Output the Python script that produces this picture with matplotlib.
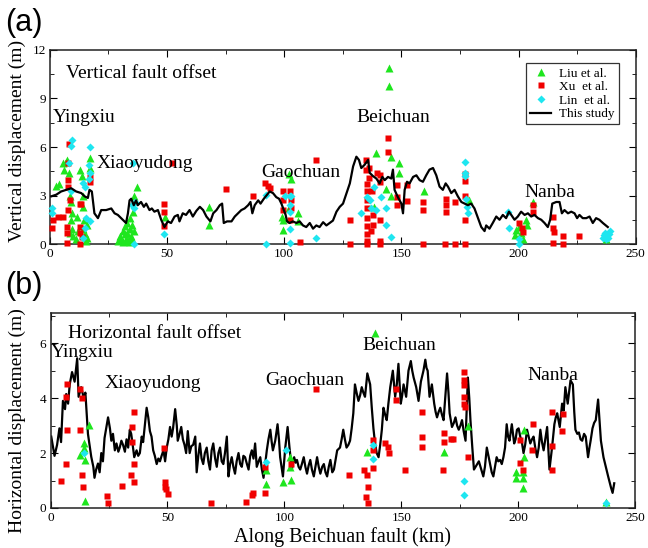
import matplotlib.pyplot as plt
from matplotlib.ticker import MultipleLocator

plt.rcParams['font.family'] = ['Liberation Serif', 'DejaVu Serif']

# ---- (a) vertical offsets ----
v_line_km = [0.6, 2.7, 4.8, 7.0, 9.1, 11.2, 13.4, 14.8, 16.2, 16.9, 17.9, 19.0, 20.5, 21.9, 24.0, 26.2, 27.6,
             29.0, 31.1, 32.5, 33.3, 34.0, 34.7, 35.8, 36.8, 37.5, 38.9, 40.1, 41.1, 42.5, 43.5, 44.6, 46.1,
             47.5, 48.9, 50.3, 51.7, 53.2, 54.6, 55.3, 56.7, 58.1, 59.6, 61.0, 62.5, 64.0, 65.4, 66.8, 68.5,
             69.7, 71.1, 72.5, 73.5, 74.2, 75.6, 77.5, 78.9, 80.3, 81.7, 83.1, 84.6, 85.6, 86.4, 87.4, 88.9,
             89.9, 91.3, 92.4, 93.8, 95.2, 96.6, 97.8, 98.8, 99.8, 100.6, 101.2, 102.3, 103.7, 105.2, 106.6,
             108.0, 109.4, 110.9, 112.3, 113.7, 115.1, 116.6, 118.0, 119.4, 120.8, 122.3, 123.7, 125.1, 126.5,
             128.0, 129.4, 130.8, 131.9, 132.9, 134.3, 135.8, 136.5, 137.9, 139.3, 140.7, 141.9, 142.9, 144.3,
             145.7, 146.4, 147.1, 148.5, 150.0, 150.7, 151.4, 152.4, 153.5, 155.0, 156.4, 157.8, 159.2, 160.6,
             162.0, 163.5, 164.9, 166.3, 167.7, 168.9, 169.9, 171.3, 172.7, 174.1, 175.6, 177.0, 178.4, 179.8,
             181.2, 182.7, 184.1, 185.5, 186.2, 187.6, 189.0, 190.5, 191.9, 193.3, 194.7, 195.9, 196.9, 198.3,
             199.7, 201.1, 202.6, 204.0, 205.4, 206.8, 208.3, 209.7, 211.1, 212.5, 213.5, 214.4, 216.1, 217.5,
             218.5, 219.6, 221.1, 222.5, 223.9, 225.0, 226.0, 227.4, 228.9, 230.3, 231.7, 233.1, 234.5, 236.0,
             238.1]
v_line = [2.95, 3.05, 3.25, 3.35, 3.45, 3.25, 3.15, 2.95, 2.85, 3.35, 3.25, 1.9, 1.6, 2.1, 2.1, 2.2, 1.9,
          1.8, 1.5, 1.3, 1.9, 2.7, 2.8, 2.4, 2.7, 2.4, 2.6, 2.3, 2.5, 2.1, 2.2, 2.0, 2.1,
          1.5, 1.05, 1.4, 1.3, 1.7, 1.8, 1.4, 1.9, 1.8, 2.1, 1.7, 2.05, 2.3, 2.1, 1.7, 1.4,
          1.9, 2.1, 2.4, 2.5, 1.3, 1.4, 1.4, 1.7, 1.9, 2.1, 2.2, 2.4, 2.6, 1.9, 2.4, 2.7,
          2.5, 2.8, 3.0, 3.25, 3.15, 2.9, 2.8, 2.5, 2.1, 1.8, 1.4, 1.3, 1.4, 1.3, 1.4,
          1.15, 1.05, 1.3, 0.95, 1.15, 1.05, 1.35, 1.15, 1.3, 1.45, 2.0, 2.3, 2.5, 3.1,
          3.75, 4.8, 5.4, 5.2, 4.7, 4.9, 5.2, 4.4, 4.2, 4.05, 3.75, 4.15, 3.95, 4.15,
          4.05, 4.6, 3.35, 2.9, 2.5, 1.9, 3.35, 3.85, 3.75, 4.15, 4.25, 3.95, 3.85, 4.25,
          4.6, 4.7, 4.25, 3.55, 3.35, 3.75, 3.55, 3.15, 3.35, 2.95, 2.6, 2.5, 2.4, 2.5,
          2.2, 1.6, 1.05, 0.8, 1.15, 0.95, 1.3, 1.7, 1.5, 1.8, 1.6, 2.0, 1.8, 1.5,
          1.7, 2.0, 1.8, 1.9, 1.7, 1.8, 1.6, 1.5, 1.3, 1.05, 1.5, 2.5, 2.6, 2.6,
          1.9, 2.1, 1.9, 2.0, 1.9, 1.6, 1.8, 1.6, 1.6, 1.7, 1.3, 1.6, 1.5, 1.3,
          1.05]

v_liu_km = [2.5, 4, 5.5, 6, 7, 7.5, 8, 8.5, 9, 9.5, 9, 8.5, 9.5, 10, 11, 11.5, 12, 13, 13.5, 14, 14,
            14.5, 14, 15, 15.5, 16, 17, 17, 16,
            29, 30, 30.5, 31, 31, 32, 32, 32.5, 33, 33, 33.5, 34, 34, 34.5, 35, 35, 35.5, 36, 37, 36, 34,
            49, 68, 68, 102, 103, 99, 99.5, 99.5, 106, 106, 102,
            139, 144.7, 144.7, 145.7, 149, 149, 143.6, 145.4, 159.5, 179, 138.3,
            198.3, 199, 200.4, 201.1, 203.3, 203.5, 206.1, 202, 237.4]
v_liu = [3.6, 3.7, 5.0, 4.6, 5.1, 5.2, 4.4, 3.0, 2.6, 1.9, 1.5, 0.7, 0.9, 0.5, 0.3, 1.7, 0.8, 4.6, 4.2, 3.0, 2.3,
         1.5, 0.9, 0.6, 0.2, 1.2, 5.3, 4.7, 0.4,
         0.2, 0.5, 0.3, 0.8, 0.1, 0.6, 1.1, 0.3, 1.3, 0.7, 0.2, 1.6, 0.9, 0.5, 1.2, 0.3, 2.0, 3.0, 3.5, 0.8, 0.1,
         1.7, 2.3, 1.2, 4.3, 4.0, 1.7, 1.5, 0.85, 1.9, 1.45, 2.2,
         5.6, 10.9, 9.75, 5.4, 5.0, 4.4, 3.4, 3.0, 3.3, 2.7, 2.3,
         0.56, 0.87, 1.07, 0.66, 1.48, 1.17, 2.62, 0.3, 0.29]

v_xu_km = [1.4, 0.9, 3.5, 5.7, 8.2, 7.8, 7.8, 7.8, 8.5, 7.8, 7.1, 7.1, 7.1, 12.8, 12.8, 12.8, 13.2, 13.8,
           17.1, 17.1, 13, 48.9, 48.9, 48.9, 52,
           75.3, 86.7, 92, 93, 94, 99.5, 99.5, 99.5, 102.6, 102.9, 103, 102.4, 106.6, 113.7,
           127.9, 127.9, 134.8, 135, 136, 136, 135.3, 135.5, 135.5, 135.5, 135.5, 135.5, 135.5, 135.5, 135.5,
           137, 138, 138, 137.5, 139.5, 140.7, 140.7, 140.7, 140.7, 140.7, 144.3, 144.5, 148.1, 148.1, 148.1,
           152.4, 152.4, 159.2, 159.2, 159.2, 168.9, 168.9, 168.9, 168.5, 172.7, 172.7, 177, 177, 177, 177, 177,
           200.4, 201.3, 202, 206.1, 206.1, 214.9, 214.9, 215.2, 214.9, 218.9, 218.9, 226]
v_xu = [1.48, 0.98, 1.69, 1.69, 6.2, 5.0, 3.96, 3.55, 2.72, 2.1, 1.07, 0.66, 0.04, 0.0, 0.66, 1.07, 2.5, 0.45,
        4.17, 3.86, 2.5, 2.5, 2.0, 1.1, 5.0,
        3.4, 3.0, 3.75, 3.6, 3.45, 3.25, 2.7, 2.1, 3.3, 2.7, 2.2, 1.5, 0.14, 5.2,
        1.5, 0.0, 5.2, 4.6, 4.7, 4.1, 3.7, 3.3, 2.7, 2.2, 1.6, 1.1, 0.6, 0.2, 0.0,
        0.8, 1.2, 1.8, 3.3, 4.4, 4.27, 3.86, 1.47, 0.2, 0.0, 6.53, 5.7, 3.65, 2.9, 2.4,
        3.65, 2.64, 2.6, 2.1, 0.0, 2.77, 2.4, 2.0, 0.0, 2.6, 0.0, 4.3, 3.9, 2.95, 1.5, 0.0,
        1.27, 0.97, 0.76, 2.4, 2.0, 1.65, 0.97, 0.76, 0.08, 0.5, 0.0, 0.5]

v_lin_km = [0.9, 1, 8, 8.8, 9.4, 9, 14, 15, 16.9, 17.3, 17.3, 16.5, 15.5, 17.3, 14.1, 15,
            35.5, 35.8, 35, 36, 36.4, 48.9,
            92.4, 92.4, 100.2, 102.4, 103, 102.4, 102.4, 102.4, 102.4, 113.7,
            132.6, 135.5, 136.5, 138.3, 137, 139, 141.3, 143.3, 143.3, 145.4, 177.3, 177.3, 177.3, 177.5, 178, 178.5,
            195.5, 196, 200, 200, 236, 237, 237.5, 238.5, 239, 236.5, 238]
v_lin = [2.2, 1.9, 5.0, 6.05, 6.45, 3.3, 3.8, 3.5, 4.9, 6.0, 4.4, 4.0, 1.6, 1.4, 0.35, 1.0,
         5.0, 0.0, 2.4, 2.2, 2.6, 0.65,
         3.03, 0.0, 2.97, 3.0, 3.0, 2.4, 2.0, 0.93, 0.05, 0.35,
         1.9, 2.9, 2.7, 3.5, 2.2, 2.1, 2.9, 2.2, 1.2, 0.45, 5.09, 4.37, 4.2, 2.8, 2.3, 1.9,
         1.96, 1.0, 0.3, 0.0, 0.4, 0.7, 0.3, 0.6, 0.8, 0.55, 0.35]

# ---- (b) horizontal offsets ----
h_line_km = [0.3, 1.7, 2.8, 3.8, 4.5, 5.3, 6.2, 6.7, 7.5, 8.2, 9.2, 10.3, 11.4, 12.0, 13.1, 14.2, 14.9, 16.0,
             17.4, 18.3, 18.8, 19.5, 20.3, 21.0, 21.7, 22.4, 23.1, 24.6, 25.4, 26.0, 26.7, 27.5, 28.2, 29.0,
             29.6, 30.3, 31.0, 31.8, 32.5, 33.2, 33.9, 34.5, 34.9, 35.8, 36.8, 37.5, 38.2, 39.0, 39.6, 41.1,
             41.8, 42.5, 43.2, 43.9, 44.6, 45.4, 46.1, 46.8, 47.5, 48.3, 49.0, 49.7, 50.4, 51.1, 51.8, 52.4,
             53.3, 54.0, 54.4, 55.2, 55.9, 56.6, 57.3, 58.0, 58.7, 59.5, 60.2, 61.0, 61.9, 62.5, 63.2, 63.9,
             64.6, 65.3, 66.0, 66.8, 67.5, 68.2, 68.9, 69.6, 70.4, 71.1, 71.8, 72.5, 73.2, 73.9, 74.6, 75.4,
             76.1, 76.8, 77.5, 78.2, 78.9, 79.6, 80.4, 81.1, 81.8, 82.5, 83.2, 84.0, 84.7, 85.4, 86.1, 86.8,
             87.5, 88.2, 89.0, 89.7, 90.4, 91.1, 91.8, 92.5, 93.2, 94.0, 94.6, 95.1, 96.1, 97.1, 97.7, 98.2,
             98.8, 99.4, 100.4, 101.4, 102.2, 103.2, 104.2, 104.8, 105.4, 106.1, 106.8, 107.5, 108.3, 109.0,
             109.7, 110.4, 111.1, 111.8, 112.6, 113.3, 114.0, 114.7, 115.4, 116.2, 116.9, 117.6, 118.3, 119.0,
             119.7, 120.5, 121.2, 121.9, 122.6, 123.8, 124.5, 125.2, 125.9, 126.6, 127.4, 128.1, 128.8, 129.5,
             130.2, 130.9, 131.7, 132.4, 133.1, 133.8, 134.5, 135.5, 136.1, 136.7, 137.4, 138.1, 138.8, 139.5,
             140.3, 141.0, 141.7, 142.4, 143.1, 143.8, 144.5, 145.3, 146.4, 147.4, 148.1, 148.8, 149.8, 150.4,
             151.0, 152.1, 153.1, 154.1, 154.7, 155.3, 156.4, 157.4, 158.4, 159.5, 160.3, 160.8, 161.3, 162.1,
             163.1, 164.1, 164.7, 165.3, 166.0, 166.7, 167.4, 168.1, 168.8, 169.6, 170.2, 170.7, 171.7, 172.5,
             173.2, 173.9, 174.6, 175.3, 176.0, 176.7, 177.5, 178.5, 179.1, 179.6, 180.4, 181.1, 181.8, 182.5,
             183.2, 183.9, 184.6, 185.1, 185.8, 186.6, 187.3, 188.0, 188.7, 189.4, 190.1, 190.8, 191.5, 192.3,
             193.0, 193.7, 194.4, 195.1, 195.7, 196.3, 197.3, 198.3, 198.9, 199.5, 200.2, 200.9, 201.6, 202.3,
             203.0, 203.8, 204.5, 205.2, 205.9, 206.6, 207.3, 208.1, 208.8, 209.5, 210.2, 210.9, 211.6, 212.4,
             213.4, 214.5, 215.5, 216.1, 216.7, 217.8, 218.8, 219.5, 220.2, 221.2, 222.4, 223.4, 224.0, 224.5,
             225.3, 226.0, 226.7, 227.4, 228.2, 228.9, 229.9, 230.5, 231.0, 231.8, 232.5, 233.2, 234.2, 235.4,
             236.5, 237.5, 238.1, 238.5, 239.7, 240.4, 241.1]
h_line = [2.6, 1.9, 2.3, 2.9, 2.4, 3.9, 3.6, 4.15, 3.8, 4.5, 4.95, 4.6, 5.45, 4.05, 4.4, 4.0, 4.2, 2.7,
          1.87, 1.5, 1.1, 1.4, 1.62, 1.3, 2.0, 1.7, 2.55, 3.3, 2.9, 2.45, 2.7, 2.1, 2.35, 2.05,
          2.2, 2.45, 2.3, 2.05, 2.5, 2.2, 2.85, 2.7, 2.45, 1.85, 2.1, 1.9, 2.0, 2.6, 2.4, 3.65,
          3.3, 2.8, 2.6, 2.1, 1.9, 1.6, 1.8, 1.7, 1.9, 2.1, 1.7, 2.2, 2.5, 2.95, 2.6, 2.9,
          3.6, 3.0, 2.45, 2.7, 2.95, 2.5, 2.3, 2.0, 2.8, 2.0, 2.25, 2.3, 2.6, 1.3, 1.9, 2.35,
          1.8, 1.6, 2.0, 2.2, 1.7, 1.4, 2.1, 2.35, 1.8, 1.5, 2.0, 2.2, 1.7, 1.6, 2.0, 2.6,
          1.15, 1.6, 1.85, 1.5, 1.25, 1.7, 2.0, 1.6, 1.5, 1.9, 1.85, 1.6, 1.4, 1.9, 2.1, 1.8,
          2.35, 1.5, 1.7, 1.85, 1.4, 1.1, 1.6, 2.1, 2.5, 2.85, 2.4, 2.1, 2.45, 3.05, 2.5, 1.85,
          1.5, 1.15, 2.2, 2.95, 2.2, 1.4, 1.85, 1.65, 1.75, 1.5, 1.4, 1.6, 1.85, 1.5,
          1.25, 1.55, 1.75, 1.4, 1.15, 1.5, 1.85, 1.5, 1.25, 1.5, 1.6, 1.3, 1.15, 1.5,
          1.75, 1.3, 1.4, 1.75, 2.1, 2.2, 2.5, 2.85, 2.5, 2.2, 2.3, 2.45, 2.9, 3.45,
          4.5, 4.2, 3.9, 4.1, 4.4, 4.2, 4.05, 4.9, 4.7, 4.5, 3.65, 2.9, 2.35, 2.0,
          1.85, 2.3, 2.85, 3.65, 3.4, 3.2, 3.8, 4.4, 5.0, 4.05, 4.5, 5.25, 3.8, 4.1,
          4.5, 4.05, 5.0, 5.35, 5.0, 4.75, 4.4, 3.9, 4.6, 5.0, 5.4, 5.1, 5.0, 4.05,
          4.5, 3.8, 3.5, 3.3, 3.5, 3.65, 3.4, 3.2, 4.0, 4.9, 4.2, 3.45, 2.95, 3.1,
          3.3, 3.0, 2.85, 3.0, 3.2, 2.8, 2.45, 4.75, 4.0, 3.2, 2.2, 1.4, 1.5, 1.6,
          1.7, 1.5, 1.3, 1.15, 1.5, 2.2, 1.9, 1.6, 1.3, 1.15, 1.5, 1.85, 1.7, 1.75,
          1.6, 1.85, 2.2, 3.05, 2.6, 2.45, 3.05, 2.35, 2.5, 2.85, 2.9, 2.6, 2.4, 2.0,
          2.3, 2.85, 2.6, 2.35, 2.5, 2.6, 2.2, 1.85, 2.2, 2.85, 2.4, 2.1, 2.5, 2.95,
          1.4, 2.2, 3.05, 3.3, 3.45, 2.95, 3.8, 3.55, 4.4, 3.8, 4.65, 4.5, 3.5, 2.85,
          2.7, 2.75, 2.5, 2.45, 2.7, 2.6, 1.85, 2.2, 2.45, 2.9, 3.1, 3.2, 3.95, 2.45,
          1.85, 1.5, 1.3, 1.15, 0.75, 0.55, 0.9]

h_liu_km = [16.3, 14.2, 14.2, 12.4, 14.8, 14.8, 92.1, 92.1, 99.5, 102.6, 102.6, 103, 138.8, 135.4, 168.4,
            178.4, 202.7, 202.7, 198.9, 198.9, 202, 202, 202, 237.4]
h_liu = [3.02, 2.35, 2.17, 1.93, 1.75, 0.24, 1.4, 0.87, 0.96, 1.87, 1.48, 1.02, 6.37, 2.05, 2.05,
         3.0, 2.84, 1.87, 1.3, 1.1, 1.32, 1.11, 0.74, 0.23]

h_xu_km = [7.1, 6.7, 7.1, 6.7, 4.3, 12.4, 13.4, 12.4, 13.4, 13.8, 24.2, 24.5, 30.5, 34.2, 35.6, 35.9, 35.6,
           34.9, 34.8, 48.5, 48.8, 49, 49.5, 50.2, 68.6, 83.6, 86, 86.4, 91.7, 91.7, 102.7, 113.4,
           127.8, 134.2, 135.2, 135.6, 134.9, 135.6, 137.8, 137.8, 137.8, 143, 144.5, 144.9, 147.7, 147.7,
           151.7, 158.9, 158.9, 158.9, 168.4, 168.4, 167.9, 171.3, 172.3, 177, 177, 177, 177, 177, 177.2,
           178.4, 206.2, 214.6, 219.3, 218.6, 200.9, 206, 214.5, 200.8, 202, 214.6]
h_xu = [4.53, 4.05, 2.84, 1.62, 0.99, 4.35, 3.99, 2.84, 1.2, 0.77, 0.45, 0.17, 0.8, 1.2, 0.96, 1.62, 3.5,
        2.96, 2.41, 2.17, 0.96, 0.77, 0.68, 0.51, 0.17, 0.23, 0.47, 0.56, 0.53, 1.5, 1.62, 4.33,
        1.19, 1.4, 1.2, 0.78, 0.41, 0.2, 2.47, 2.1, 1.44, 2.35, 2.23, 1.99, 4.35, 3.93,
        1.38, 3.5, 2.6, 2.23, 2.72, 2.41, 1.38, 2.53, 2.53, 4.95, 4.65, 4.47, 4.05, 3.8, 3.68,
        1.87, 3.05, 3.5, 3.44, 2.8, 2.47, 2.1, 2.24, 1.63, 1.38, 1.38]

h_lin_km = [14.2, 92.1, 100.7, 137.8, 138.1, 177, 177, 237.7]
h_lin = [2.0, 1.69, 2.1, 2.3, 1.8, 0.98, 0.47, 0.2]

v_places = [('Yingxiu', 1.3, 7.8), ('Xiaoyudong', 20, 5.0), ('Gaochuan', 90.4, 4.45),
            ('Beichuan', 131, 7.8), ('Nanba', 202.6, 3.2)]
h_places = [('Yingxiu', 0, 5.67), ('Xiaoyudong', 23.2, 4.55), ('Gaochuan', 91.7, 4.65),
            ('Beichuan', 133.2, 5.93), ('Nanba', 203.8, 4.84)]

green = '#1ee61e'
red = '#f00000'
cyan = '#1ee6f0'

fig = plt.figure(figsize=(6.48, 5.48), dpi=100)
ax1 = fig.add_axes([0.077, 0.5547, 0.904, 0.3541])
ax2 = fig.add_axes([0.078, 0.073, 0.902, 0.3558])


def draw_panel(ax, liu_x, liu_y, xu_x, xu_y, lin_x, lin_y, lx, ly, line_top):
    lz = 5 if line_top else 2
    ax.plot(liu_x, liu_y, '^', color=green, ms=5.5, mec='none', label='Liu et al.', clip_on=False, zorder=3)
    ax.plot(xu_x, xu_y, 's', color=red, ms=4.7, mec='none', label='Xu  et al.', clip_on=False, zorder=3)
    ax.plot(lin_x, lin_y, 'D', color=cyan, ms=4.2, mec='none', label='Lin  et al.', clip_on=False, zorder=3)
    ax.plot(lx, ly, '-', color='black', lw=1.6, label='This study', zorder=lz)
    ax.set_xlim(0, 250)
    ax.xaxis.set_major_locator(MultipleLocator(50))
    ax.xaxis.set_minor_locator(MultipleLocator(25))
    ax.tick_params(which='both', direction='in', top=True, right=True, labelsize=9.5, pad=3)
    ax.tick_params(which='major', length=5)
    ax.tick_params(which='minor', length=3)
    for s in ax.spines.values():
        s.set_linewidth(1.1)
        s.set_color('#222222')


draw_panel(ax1, v_liu_km, v_liu, v_xu_km, v_xu, v_lin_km, v_lin, v_line_km, v_line, True)
ax1.set_ylim(0, 12)
ax1.yaxis.set_major_locator(MultipleLocator(3))
ax1.yaxis.set_minor_locator(MultipleLocator(1.5))
ax1.set_ylabel('Vertical displacement (m)', fontsize=14)
ax1.yaxis.set_label_coords(-0.041, 0.53)
ax1.text(6.8, 10.57, 'Vertical fault offset', fontsize=14, va='center', ha='left')
for name, x, y in v_places:
    ax1.text(x, y, name, fontsize=14, va='center', ha='left', zorder=6)
leg = ax1.legend(loc='upper right', bbox_to_anchor=(0.971, 0.931), fontsize=9.5, frameon=True,
                 fancybox=False, edgecolor='black', labelspacing=0.1, handlelength=1.6,
                 handletextpad=0.6, borderpad=0.3, borderaxespad=0)
leg.get_frame().set_linewidth(0.9)

draw_panel(ax2, h_liu_km, h_liu, h_xu_km, h_xu, h_lin_km, h_lin, h_line_km, h_line, False)
ax2.set_ylim(0, 7.1)
ax2.yaxis.set_major_locator(MultipleLocator(2))
ax2.yaxis.set_minor_locator(MultipleLocator(1))
ax2.set_ylabel('Horizontal displacement (m)', fontsize=14)
ax2.yaxis.set_label_coords(-0.042, 0.45)
ax2.set_xlabel('Along Beichuan fault (km)', fontsize=14.5, labelpad=2)
ax2.text(7.4, 6.36, 'Horizontal fault offset', fontsize=14, va='center', ha='left')
for name, x, y in h_places:
    ax2.text(x, y, name, fontsize=14, va='center', ha='left', zorder=6)

fig.text(0.008, 0.985, '(a)', fontsize=22, family='Liberation Sans', va='top', ha='left')
fig.text(0.008, 0.506, '(b)', fontsize=22, family='Liberation Sans', va='top', ha='left')

fig.savefig('out.png', dpi=100)
